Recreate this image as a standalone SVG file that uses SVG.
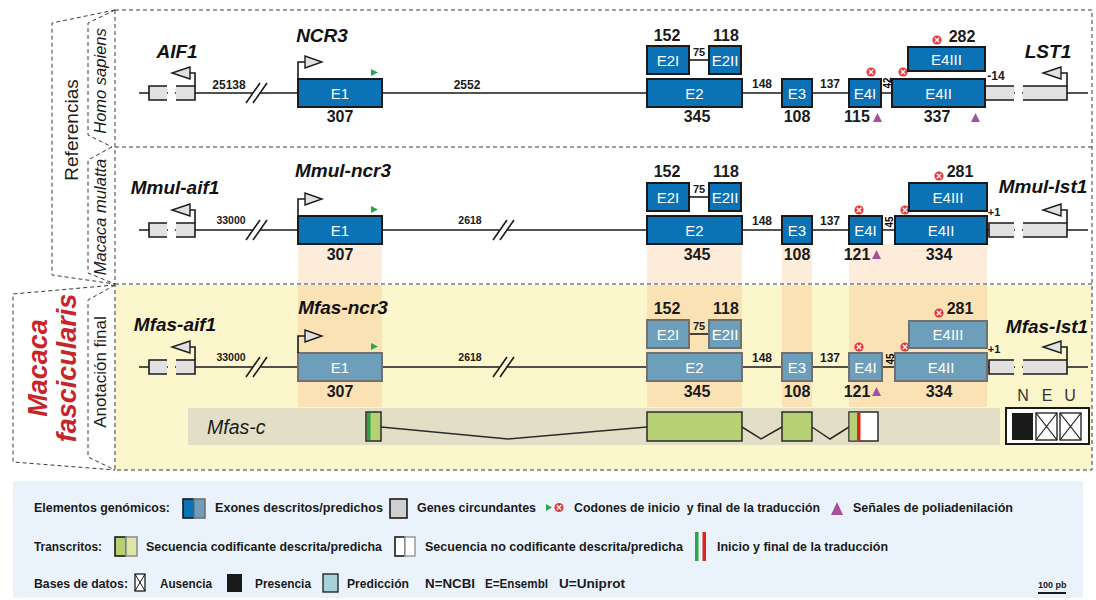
<svg xmlns="http://www.w3.org/2000/svg" width="1096" height="600" viewBox="0 0 1096 600">
<defs>
<style>
text{font-family:"Liberation Sans",Arial,sans-serif}
.dash{fill:none;stroke:#3a3a3a;stroke-width:1;stroke-dasharray:4 3}
.bb{fill:none;stroke:#1a1a1a;stroke-width:1.6}
.ex{fill:#0b72b5;stroke:#1a1a1a;stroke-width:2}
.pe{fill:#6e9fba;stroke:#707070;stroke-width:2}
.gb{fill:#e1e1e1;stroke:none}
.go{fill:none;stroke:#1a1a1a;stroke-width:1.6}
.ar{fill:#e1e1e1;stroke:#1a1a1a;stroke-width:1.4}
.el{font-size:15px;fill:#fff;text-anchor:middle}
.n{font-size:16px;font-weight:bold;text-anchor:middle;fill:#1a1a1a}
.d{font-size:12px;font-weight:bold;text-anchor:middle;fill:#1a1a1a}
.ds{font-size:10.5px;font-weight:bold;text-anchor:middle;fill:#1a1a1a}
.sm{font-size:11px;font-weight:bold;text-anchor:middle;fill:#1a1a1a}
.gene{font-size:19px;font-weight:bold;font-style:italic;text-anchor:middle;fill:#111}
.st{fill:#2aa84a}
.pa{fill:#a5509d}
.lg{font-size:12.5px;font-weight:bold;fill:#1a1a1a}
.side{font-size:16.5px;font-style:italic;text-anchor:middle;fill:#1a1a1a}
.tr{fill:#b5d173;stroke:#2a2a2a;stroke-width:1.5}
.in{fill:none;stroke:#2a2a2a;stroke-width:1.5}
.xb{fill:#fff;stroke:#1a1a1a;stroke-width:1.3}
</style>
<g id="stop"><circle r="4.6" fill="#e8383d"/><path d="M-2.2,-2.2L2.2,2.2M2.2,-2.2L-2.2,2.2" stroke="#fff" stroke-width="1.3"/></g>
</defs>

<!-- backgrounds -->
<rect x="115" y="285" width="977" height="185" fill="#fcf6cd"/>
<g id="bands-mmul" fill="#fdecd9">
  <rect x="298" y="244" width="84" height="40"/>
  <rect x="647" y="244" width="95" height="40"/>
  <rect x="782" y="244" width="30" height="40"/>
  <rect x="849" y="244" width="138" height="40"/>
</g>
<g id="bands-mfas" fill="#fbe2b4">
  <rect x="298" y="285" width="84" height="122"/>
  <rect x="647" y="285" width="95" height="122"/>
  <rect x="782" y="285" width="30" height="122"/>
  <rect x="849" y="285" width="138" height="122"/>
</g>

<!-- panel frame and side brackets -->
<g id="frame">
  <path class="dash" d="M115,10H1092V470H115ZM115,147H1092M115,284H1092"/>
  <path class="dash" d="M115,10L52,23V275L115,284"/>
  <path class="dash" d="M115,10L88,23V135L112,147"/>
  <path class="dash" d="M112,147L88,160V273L115,284"/>
  <path class="dash" d="M115,285L13,294V462L115,470"/>
  <path class="dash" d="M115,285L88,300V457L115,470"/>
</g>
<g id="side-labels">
  <text transform="translate(78,130) rotate(-90)" font-size="19" text-anchor="middle" fill="#1a1a1a">Referencias</text>
  <text class="side" transform="translate(106,81) rotate(-90)">Homo sapiens</text>
  <text class="side" transform="translate(106,217) rotate(-90)">Macaca mulatta</text>
  <text transform="translate(106,372) rotate(-90)" font-size="17" text-anchor="middle" fill="#1a1a1a">Anotación final</text>
  <text transform="translate(47,368) rotate(-90)" font-size="27" font-weight="bold" font-style="italic" text-anchor="middle" fill="#c8252b">Macaca</text>
  <text transform="translate(76,368) rotate(-90)" font-size="27" font-weight="bold" font-style="italic" text-anchor="middle" fill="#c8252b">fascicularis</text>
</g>

<!-- Homo sapiens -->
<g id="row-hsa" transform="translate(0,93)">
  <g id="hsa-connectors">
    <path class="bb" d="M139,0H168M175,0H253M260,0H1015M1022,0H1088"/>
    <path class="bb" d="M246,10L260,-10M253,10L267,-10"/>
    <path class="bb" d="M689,-33H709"/>
    <text class="d" x="229" y="-4">25138</text>
    <text class="d" x="467" y="-4">2552</text>
    <text class="sm" x="699" y="-37">75</text>
    <text class="d" x="762" y="-5">148</text>
    <text class="d" x="830" y="-5">137</text>
    <text transform="translate(887,-10) rotate(-90)" font-size="10" font-weight="bold" text-anchor="middle" dy="3.5">42</text>
  </g>
  <g id="hsa-AIF1">
    <rect class="gb" x="149" y="-7" width="18" height="14"/><rect class="gb" x="176" y="-7" width="19" height="14"/>
    <path class="go" d="M167,-7H149V7H167M176,-7H195V7H176"/>
    <path class="go" d="M195,-7V-20H190"/><polygon class="ar" points="190,-26 190,-14 172,-20"/>
    <text class="gene" x="177" y="-35">AIF1</text>
  </g>
  <g id="hsa-E1">
    <rect class="ex" x="298" y="-14" width="84" height="28"/>
    <text class="el" x="340" y="5.5">E1</text><text class="n" x="340" y="29">307</text>
    <path class="go" d="M298,-14V-31H305"/><polygon class="ar" points="305,-37 305,-25 322,-31"/>
    <polygon class="st" points="371,-24 371,-17 378,-20.5"/>
    <text class="gene" x="322" y="-51">NCR3</text>
  </g>
  <g id="hsa-E2I"><rect class="ex" x="647" y="-47" width="42" height="28"/><text class="el" x="668" y="-27.5">E2I</text><text class="n" x="667" y="-52">152</text></g>
  <g id="hsa-E2II"><rect class="ex" x="709" y="-47" width="32" height="28"/><text class="el" x="725" y="-27.5">E2II</text><text class="n" x="726" y="-52">118</text></g>
  <g id="hsa-E2"><rect class="ex" x="647" y="-14" width="95" height="28"/><text class="el" x="694.5" y="5.5">E2</text><text class="n" x="697" y="29">345</text></g>
  <g id="hsa-E3"><rect class="ex" x="782" y="-14" width="30" height="28"/><text class="el" x="797" y="5.5">E3</text><text class="n" x="797" y="29">108</text></g>
  <g id="hsa-E4I"><rect class="ex" x="849" y="-14" width="32" height="28"/><text class="el" x="865" y="5.5">E4I</text><text class="n" x="857" y="29">115</text>
    <use href="#stop" x="871" y="-21"/><polygon class="pa" points="873,29 882,29 877.5,20"/></g>
  <g id="hsa-LST1">
    <rect class="gb" x="985" y="-7" width="29" height="14"/><rect class="gb" x="1023" y="-7" width="44" height="14"/>
    <path class="go" d="M1014,-7H985V7H1014M1023,-7H1067V7H1023"/>
    <path class="go" d="M1067,-7V-20H1061"/><polygon class="ar" points="1061,-26 1061,-14 1043,-20"/>
    <text class="gene" x="1048" y="-35">LST1</text>
    <text class="d" x="996" y="-13">-14</text>
  </g>
  <g id="hsa-E4II"><rect class="ex" x="892" y="-14" width="93" height="28"/><text class="el" x="938.5" y="5.5">E4II</text><text class="n" x="937" y="29">337</text>
    <use href="#stop" x="903" y="-21"/><polygon class="pa" points="971,29 980,29 975.5,20"/></g>
  <g id="hsa-E4III"><rect class="ex" x="908" y="-46" width="77" height="24"/><text class="el" x="946.5" y="-28.5">E4III</text>
    <use href="#stop" x="937" y="-53"/><text class="n" x="962" y="-51">282</text></g>
</g>

<!-- Macaca mulatta -->
<g id="row-mmul" transform="translate(0,230)">
  <g id="mmul-connectors">
    <path class="bb" d="M139,0H168M175,0H253M260,0H499.5M506.5,0H1015M1022,0H1088"/>
    <path class="bb" d="M246,10L260,-10M253,10L267,-10M493,10L507,-10M500,10L514,-10"/>
    <path class="bb" d="M689,-33H709"/>
    <text class="ds" x="231" y="-6">33000</text>
    <text class="ds" x="470" y="-6">2618</text>
    <text class="sm" x="699" y="-37">75</text>
    <text class="d" x="762" y="-5">148</text>
    <text class="d" x="830" y="-5">137</text>
    <text transform="translate(889,-8) rotate(-90)" font-size="10" font-weight="bold" text-anchor="middle" dy="3.5">45</text>
  </g>
  <g id="mmul-aif1">
    <rect class="gb" x="149" y="-7" width="18" height="14"/><rect class="gb" x="176" y="-7" width="19" height="14"/>
    <path class="go" d="M167,-7H149V7H167M176,-7H195V7H176"/>
    <path class="go" d="M195,-7V-20H190"/><polygon class="ar" points="190,-26 190,-14 172,-20"/>
    <text class="gene" x="175" y="-36">Mmul-aif1</text>
  </g>
  <g id="mmul-E1">
    <rect class="ex" x="298" y="-14" width="84" height="28"/>
    <text class="el" x="340" y="5.5">E1</text><text class="n" x="340" y="29.5">307</text>
    <path class="go" d="M298,-14V-31H305"/><polygon class="ar" points="305,-37 305,-25 322,-31"/>
    <polygon class="st" points="371,-24 371,-17 378,-20.5"/>
    <text class="gene" x="343" y="-53">Mmul-ncr3</text>
  </g>
  <g id="mmul-E2I"><rect class="ex" x="647" y="-47" width="42" height="28"/><text class="el" x="668" y="-27.5">E2I</text><text class="n" x="667" y="-53">152</text></g>
  <g id="mmul-E2II"><rect class="ex" x="709" y="-47" width="32" height="28"/><text class="el" x="725" y="-27.5">E2II</text><text class="n" x="726" y="-53">118</text></g>
  <g id="mmul-E2"><rect class="ex" x="647" y="-14" width="95" height="28"/><text class="el" x="694.5" y="5.5">E2</text><text class="n" x="697" y="29.5">345</text></g>
  <g id="mmul-E3"><rect class="ex" x="782" y="-14" width="30" height="28"/><text class="el" x="797" y="5.5">E3</text><text class="n" x="797" y="29.5">108</text></g>
  <g id="mmul-E4I"><rect class="ex" x="849" y="-14" width="33" height="28"/><text class="el" x="865.5" y="5.5">E4I</text><text class="n" x="857" y="29.5">121</text>
    <use href="#stop" x="859" y="-20"/><polygon class="pa" points="872,29 881,29 876.5,20"/></g>
  <g id="mmul-lst1">
    <rect class="gb" x="989" y="-7" width="25" height="14"/><rect class="gb" x="1023" y="-7" width="44" height="14"/>
    <path class="go" d="M1014,-7H989V7H1014M1023,-7H1067V7H1023"/>
    <path class="go" d="M1067,-7V-20H1061"/><polygon class="ar" points="1061,-26 1061,-14 1043,-20"/>
    <text class="gene" x="1043" y="-37">Mmul-lst1</text>
    <text class="sm" x="994" y="-14">+1</text>
  </g>
  <g id="mmul-E4II"><rect class="ex" x="895" y="-14" width="92" height="28"/><text class="el" x="941" y="5.5">E4II</text><text class="n" x="939" y="29.5">334</text>
    <use href="#stop" x="905" y="-20"/></g>
  <g id="mmul-E4III"><rect class="ex" x="909" y="-47" width="78" height="28"/><text class="el" x="948" y="-27.5">E4III</text>
    <use href="#stop" x="939" y="-54"/><text class="n" x="960" y="-53">281</text></g>
</g>

<!-- Macaca fascicularis -->
<g id="row-mfas" transform="translate(0,367)">
  <g id="mfas-connectors">
    <path class="bb" d="M139,0H168M175,0H253M260,0H499.5M506.5,0H1015M1022,0H1088"/>
    <path class="bb" d="M246,10L260,-10M253,10L267,-10M493,10L507,-10M500,10L514,-10"/>
    <path class="bb" d="M689,-33H709"/>
    <text class="ds" x="231" y="-6">33000</text>
    <text class="ds" x="470" y="-6">2618</text>
    <text class="sm" x="699" y="-37">75</text>
    <text class="d" x="762" y="-5">148</text>
    <text class="d" x="830" y="-5">137</text>
    <text transform="translate(890,-8) rotate(-90)" font-size="10" font-weight="bold" text-anchor="middle" dy="3.5">45</text>
  </g>
  <g id="mfas-aif1">
    <rect class="gb" x="149" y="-7" width="18" height="14"/><rect class="gb" x="176" y="-7" width="19" height="14"/>
    <path class="go" d="M167,-7H149V7H167M176,-7H195V7H176"/>
    <path class="go" d="M195,-7V-20H190"/><polygon class="ar" points="190,-26 190,-14 172,-20"/>
    <text class="gene" x="175" y="-36">Mfas-aif1</text>
  </g>
  <g id="mfas-E1">
    <rect class="pe" x="298" y="-14" width="84" height="28"/>
    <text class="el" x="340" y="5.5">E1</text><text class="n" x="340" y="29.5">307</text>
    <path class="go" d="M298,-14V-31H305"/><polygon class="ar" points="305,-37 305,-25 322,-31"/>
    <polygon class="st" points="371,-24 371,-17 378,-20.5"/>
    <text class="gene" x="343" y="-53">Mfas-ncr3</text>
  </g>
  <g id="mfas-E2I"><rect class="pe" x="647" y="-47" width="42" height="28"/><text class="el" x="668" y="-27.5">E2I</text><text class="n" x="667" y="-53">152</text></g>
  <g id="mfas-E2II"><rect class="pe" x="709" y="-47" width="32" height="28"/><text class="el" x="725" y="-27.5">E2II</text><text class="n" x="726" y="-53">118</text></g>
  <g id="mfas-E2"><rect class="pe" x="647" y="-14" width="95" height="28"/><text class="el" x="694.5" y="5.5">E2</text><text class="n" x="697" y="29.5">345</text></g>
  <g id="mfas-E3"><rect class="pe" x="782" y="-14" width="30" height="28"/><text class="el" x="797" y="5.5">E3</text><text class="n" x="797" y="29.5">108</text></g>
  <g id="mfas-E4I"><rect class="pe" x="849" y="-14" width="33" height="28"/><text class="el" x="865.5" y="5.5">E4I</text><text class="n" x="857" y="29.5">121</text>
    <use href="#stop" x="859" y="-20"/><polygon class="pa" points="872,29 881,29 876.5,20"/></g>
  <g id="mfas-lst1">
    <rect class="gb" x="989" y="-7" width="25" height="14"/><rect class="gb" x="1023" y="-7" width="44" height="14"/>
    <path class="go" d="M1014,-7H989V7H1014M1023,-7H1067V7H1023"/>
    <path class="go" d="M1067,-7V-20H1061"/><polygon class="ar" points="1061,-26 1061,-14 1043,-20"/>
    <text class="gene" x="1047" y="-34">Mfas-lst1</text>
    <text class="sm" x="994" y="-14">+1</text>
  </g>
  <g id="mfas-E4II"><rect class="pe" x="895" y="-14" width="92" height="28"/><text class="el" x="941" y="5.5">E4II</text><text class="n" x="939" y="29.5">334</text>
    <use href="#stop" x="905" y="-20"/></g>
  <g id="mfas-E4III"><rect class="pe" x="909" y="-46" width="78" height="27"/><text class="el" x="948" y="-27">E4III</text>
    <use href="#stop" x="939" y="-54"/><text class="n" x="960" y="-53">281</text></g>
</g>

<!-- transcript Mfas-c -->
<g id="mfas-c">
  <rect x="188" y="408" width="812" height="37" fill="#e3dfc6"/>
  <text x="207" y="434" font-size="19.5" font-style="italic" fill="#1a1a1a">Mfas-c</text>
  <polyline class="in" points="381,427 508,439 647,427"/>
  <polyline class="in" points="742,427 761,439 782,427"/>
  <polyline class="in" points="812,427 830,439 849,427"/>
  <rect class="tr" x="366" y="412" width="15" height="29"/>
  <rect x="367" y="413" width="3.5" height="27" fill="#2e9e48"/>
  <rect class="tr" x="647" y="412" width="95" height="29"/>
  <rect class="tr" x="782" y="412" width="30" height="29"/>
  <rect x="849" y="412" width="29" height="29" fill="#fff" stroke="#2a2a2a" stroke-width="1.5"/>
  <rect x="849.7" y="412.7" width="7.5" height="27.6" fill="#b5d173"/>
  <rect x="857" y="412.7" width="3.5" height="27.6" fill="#e2231a"/>
</g>

<!-- database presence -->
<g id="mfas-db">
  <text x="1023" y="401" font-size="16" text-anchor="middle" fill="#333">N</text>
  <text x="1047" y="401" font-size="16" text-anchor="middle" fill="#333">E</text>
  <text x="1070" y="401" font-size="16" text-anchor="middle" fill="#333">U</text>
  <rect x="1006" y="408" width="83" height="36" fill="#fff" stroke="#1a1a1a" stroke-width="2"/>
  <rect x="1012" y="413" width="21" height="27" fill="#1a1a1a"/>
  <rect class="xb" x="1036" y="413" width="21" height="27"/><path d="M1036,413L1057,440M1057,413L1036,440" stroke="#1a1a1a" stroke-width="1.2"/>
  <rect class="xb" x="1060" y="413" width="21" height="27"/><path d="M1060,413L1081,440M1081,413L1060,440" stroke="#1a1a1a" stroke-width="1.2"/>
</g>

<!-- legend -->
<g id="legend">
  <rect x="13" y="481" width="1070" height="117" fill="#eaf3fb"/>
  <text class="lg" x="34" y="512" textLength="136" lengthAdjust="spacingAndGlyphs">Elementos genómicos:</text>
  <rect x="183" y="499" width="11" height="19" fill="#0b72b5" stroke="#1a1a1a" stroke-width="1.6"/>
  <rect x="194" y="499" width="11" height="19" fill="#6e9fba" stroke="#707070" stroke-width="1.6"/>
  <text class="lg" x="215" y="512" textLength="168" lengthAdjust="spacingAndGlyphs">Exones descritos/predichos</text>
  <rect x="390" y="499" width="17" height="19" fill="#cfcfcf" stroke="#1a1a1a" stroke-width="1.6"/>
  <text class="lg" x="417" y="512" textLength="119" lengthAdjust="spacingAndGlyphs">Genes circundantes</text>
  <polygon class="st" points="546,504 546,511 552,507.5"/>
  <use href="#stop" x="559" y="507.5"/>
  <text class="lg" x="574" y="512" textLength="246" lengthAdjust="spacingAndGlyphs" xml:space="preserve">Codones de inicio  y final de la traducción</text>
  <polygon class="pa" points="831,515 843,515 837,502"/>
  <text class="lg" x="853" y="512" textLength="160" lengthAdjust="spacingAndGlyphs">Señales de poliadenilación</text>

  <text class="lg" x="34" y="551" textLength="68" lengthAdjust="spacingAndGlyphs">Transcritos:</text>
  <rect x="115" y="537" width="11" height="19" fill="#b5d173" stroke="#1a1a1a" stroke-width="1.6"/>
  <rect x="126" y="537" width="11" height="19" fill="#dde6a6" stroke="#909090" stroke-width="1.6"/>
  <text class="lg" x="146" y="551" textLength="236" lengthAdjust="spacingAndGlyphs">Secuencia codificante descrita/predicha</text>
  <rect x="395" y="537" width="10" height="19" fill="#fff" stroke="#1a1a1a" stroke-width="1.6"/>
  <rect x="405" y="537" width="10" height="19" fill="#fff" stroke="#a0a0a0" stroke-width="1.6"/>
  <text class="lg" x="425" y="551" textLength="258" lengthAdjust="spacingAndGlyphs">Secuencia no codificante descrita/predicha</text>
  <rect x="695" y="532" width="3.5" height="29" fill="#2aa84a"/>
  <rect x="702.5" y="532" width="3.5" height="29" fill="#e2231a"/>
  <text class="lg" x="717" y="551" textLength="171" lengthAdjust="spacingAndGlyphs">Inicio y final de la traducción</text>

  <text class="lg" x="34" y="588" textLength="94" lengthAdjust="spacingAndGlyphs">Bases de datos:</text>
  <rect class="xb" x="135" y="574" width="10" height="17"/><path d="M135,574L145,591M145,574L135,591" stroke="#1a1a1a" stroke-width="1"/>
  <text class="lg" x="160" y="588" textLength="52" lengthAdjust="spacingAndGlyphs">Ausencia</text>
  <rect x="227" y="574" width="15" height="18" fill="#1a1a1a"/>
  <text class="lg" x="255" y="588" textLength="56" lengthAdjust="spacingAndGlyphs">Presencia</text>
  <rect x="323" y="574" width="15" height="18" fill="#a8d2da" stroke="#1a1a1a" stroke-width="1.3"/>
  <text class="lg" x="347" y="588" textLength="62" lengthAdjust="spacingAndGlyphs">Predicción</text>
  <text class="lg" x="425" y="588" textLength="50" lengthAdjust="spacingAndGlyphs">N=NCBI</text>
  <text class="lg" x="485" y="588" textLength="63" lengthAdjust="spacingAndGlyphs">E=Ensembl</text>
  <text class="lg" x="559" y="588" textLength="66" lengthAdjust="spacingAndGlyphs">U=Uniprot</text>
  <text x="1038" y="588" font-size="9" font-weight="bold" fill="#1a1a1a">100 pb</text>
  <rect x="1038" y="592" width="28" height="2" fill="#1a1a1a"/>
</g>
</svg>
